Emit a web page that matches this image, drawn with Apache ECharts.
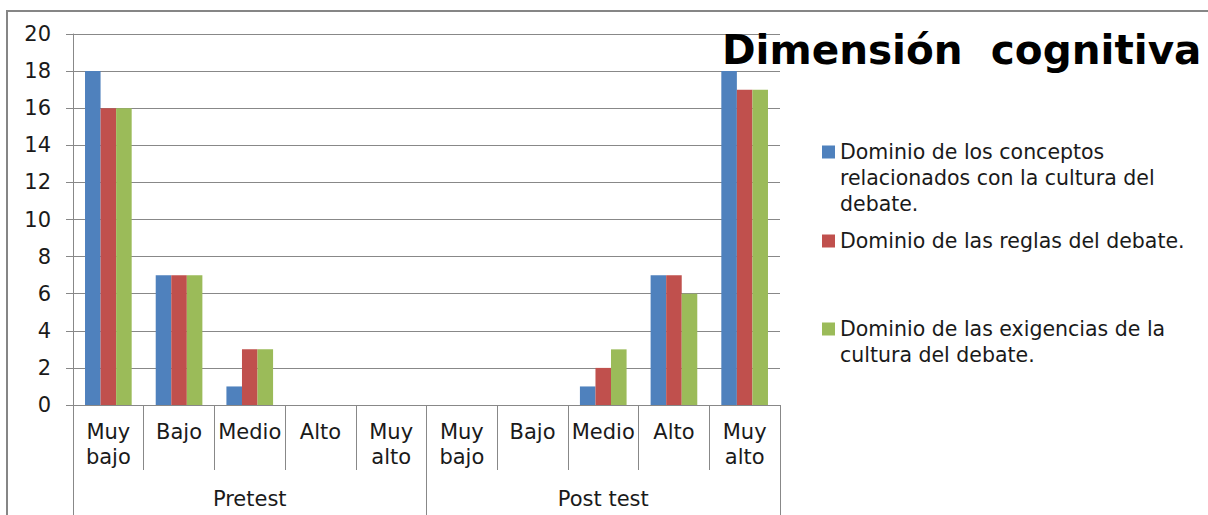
<!DOCTYPE html>
<html>
<head>
<meta charset="utf-8">
<script src="https://cdn.jsdelivr.net/npm/echarts@6/dist/echarts.min.js"></script>
<style>
  html, body { margin: 0; padding: 0; background: #fff; }
  #chart { width: 1208px; height: 515px; }
</style>
</head>
<body>
<div id="chart"></div>
<script>
// Levels shown under each test phase
const levels = ['Muy\nbajo', 'Bajo', 'Medio', 'Alto', 'Muy\nalto'];
const phases = ['Pretest', 'Post test'];
const categories = levels.concat(levels);

const seriesNames = [
  'Dominio de los conceptos\nrelacionados con la cultura del\ndebate.',
  'Dominio de las reglas del debate.',
  'Dominio de las exigencias de la\ncultura del debate.'
];

// Counts per level: Pretest (first five) then Post test (last five)
const conceptos = [18, 7, 1, 0, 0, 0, 0, 1, 7, 18];
const reglas    = [16, 7, 3, 0, 0, 0, 0, 2, 7, 17];
const exigencias = [16, 7, 3, 0, 0, 0, 0, 3, 6, 17];

const yTicks = { min: 0, max: 20, interval: 2 };

const colors = ['#4F81BD', '#C0504D', '#9BBB59'];
const gray = '#888888';
const textFont = 'DejaVu Sans';
const LH = 26;
const SW = 13;

// Swatch drawn at the top of a taller icon box, so the first text line
// sits beside it when the label wraps over several lines.
function legendFor(name, top) {
  const lines = name.split('\n').length;
  const boxH = SW + (lines - 1) * LH;
  const icon = lines > 1
    ? 'path://M0,0L' + SW + ',0L' + SW + ',' + SW + 'L0,' + SW + 'Z M0,' + boxH + 'L0.01,' + boxH
    : 'rect';
  return {
    data: [name],
    orient: 'vertical',
    left: 822,
    top: top,
    padding: 0,
    itemWidth: SW,
    itemHeight: boxH,
    icon: icon,
    selectedMode: false,
    textStyle: {
      fontFamily: textFont,
      fontSize: 20.5,
      color: '#1a1a1a',
      lineHeight: LH
    }
  };
}

const chart = echarts.init(document.getElementById('chart'), null, { renderer: 'svg' });

chart.setOption({
  backgroundColor: '#ffffff',
  animation: false,
  color: colors,
  title: {
    text: 'Dimensión  cognitiva',
    left: 722,
    top: 29,
    padding: 0,
    textStyle: {
      fontFamily: textFont,
      fontWeight: 'bold',
      fontSize: 40.5,
      color: '#000000'
    }
  },
  legend: [
    legendFor(seriesNames[0], 139),
    legendFor(seriesNames[1], 228),
    legendFor(seriesNames[2], 316)
  ],
  grid: { left: 73, right: 428, top: 34, bottom: 110, containLabel: false },
  xAxis: [
    {
      type: 'category',
      data: categories,
      position: 'bottom',
      axisLine: { lineStyle: { color: gray, width: 1 } },
      axisTick: { show: true, interval: 0, length: 65, lineStyle: { color: gray } },
      axisLabel: {
        interval: 0,
        margin: 14,
        fontFamily: textFont,
        fontSize: 21,
        lineHeight: 25,
        color: '#1a1a1a'
      }
    },
    {
      type: 'category',
      data: phases,
      position: 'bottom',
      axisLine: { show: false },
      axisTick: { show: true, interval: 0, length: 110, lineStyle: { color: gray } },
      axisLabel: {
        interval: 0,
        margin: 83,
        fontFamily: textFont,
        fontSize: 21,
        color: '#1a1a1a'
      }
    }
  ],
  yAxis: {
    type: 'value',
    min: yTicks.min,
    max: yTicks.max,
    interval: yTicks.interval,
    axisLine: { show: true, lineStyle: { color: gray } },
    axisTick: { show: true, length: 7, lineStyle: { color: gray } },
    splitLine: { lineStyle: { color: gray, width: 1 } },
    axisLabel: {
      margin: 22,
      fontFamily: textFont,
      fontSize: 21,
      color: '#1a1a1a'
    }
  },
  series: [
    { name: seriesNames[0], type: 'bar', xAxisIndex: 0, data: conceptos, barGap: '0%', barCategoryGap: '34%' },
    { name: seriesNames[1], type: 'bar', xAxisIndex: 0, data: reglas, barGap: '0%', barCategoryGap: '34%' },
    { name: seriesNames[2], type: 'bar', xAxisIndex: 0, data: exigencias, barGap: '0%', barCategoryGap: '34%' }
  ],
  graphic: [
    {
      type: 'polyline',
      silent: true,
      shape: { points: [[7, 516], [7, 11], [1209, 11]] },
      style: { stroke: '#868686', lineWidth: 2, fill: null }
    }
  ]
});
</script>
</body>
</html>
